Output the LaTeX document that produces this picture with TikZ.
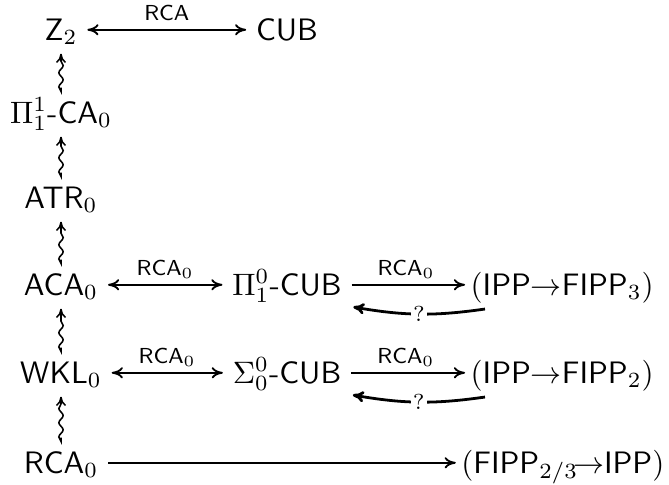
\documentclass[tikz,border=0pt]{standalone}
\usetikzlibrary{arrows.meta,decorations.pathmorphing,calc}
\begin{document}
\begin{tikzpicture}[x=0.3226pt,y=-0.3226pt,
  obj/.style={inner xsep=0pt, inner ysep=0pt, text height=10pt, text depth=3.4pt, anchor=base},
  objw/.style={obj, anchor=base west},
  obje/.style={obj, anchor=base east},
  lab/.style={font=\scriptsize, inner sep=1pt, text depth=1.6pt, above=0pt},
  qlab/.style={font=\scriptsize, inner sep=0.6pt, fill=white},
  ar/.style={line width=0.6pt, -{To[length=3.6pt,width=3.6pt]}, shorten <=3pt, shorten >=3pt},
  ar3/.style={line width=0.6pt, -{To[length=3.6pt,width=3.6pt]}, shorten <=3pt, shorten >=1.6pt},
  biar/.style={line width=0.6pt, {To[length=3.6pt,width=3.6pt]}-{To[length=3.6pt,width=3.6pt]}, shorten <=3pt, shorten >=3pt},
  back/.style={line width=0.9pt, -{To[length=3.6pt,width=3.6pt]}},
  squig/.style={line width=0.5pt, -{To[length=3pt,width=3.2pt]}, decorate,
    decoration={snake, amplitude=0.7pt, segment length=4.6pt, post length=3pt},
    shorten <=1.2pt, shorten >=0.8pt},
]
\useasboundingbox (0,0) rectangle (669,484);
% left column
\node[obj] (z2)  at (61,40)  {$\mathsf{Z}_2$};
\node[obj] (pi1) at (61,123) {$\Pi^1_1$-$\mathsf{CA}_0$};
\node[obj] (atr) at (61,208) {$\mathsf{ATR}_0$};
\node[obj] (aca) at (61,295) {$\mathsf{ACA}_0$};
\node[obj] (wkl) at (61,383) {$\mathsf{WKL}_0$};
\node[obj] (rca) at (61,473) {$\mathsf{RCA}_0$};
% middle column
\node[obj] (cub)  at (287,40)  {$\mathsf{CUB}$};
\node[obj] (picub) at (287,295) {$\Pi^0_1$-$\mathsf{CUB}$};
\node[obj] (sicub) at (287,383) {$\Sigma^0_0$-$\mathsf{CUB}$};
% right column
\node[objw] (ipp3) at (470,295) {$(\mathsf{IPP}{\to}\mathsf{FIPP}_3)$};
\node[objw] (ipp2) at (470,383) {$(\mathsf{IPP}{\to}\mathsf{FIPP}_2)$};
\node[obje] (fipp) at (665,473) {$(\mathsf{FIPP}_{2/3}\!{\to}\mathsf{IPP})$};
% squiggly implications
\draw[squig] (pi1.north) -- (z2.south);
\draw[squig] (atr.north) -- (pi1.south);
\draw[squig] (aca.north) -- (atr.south);
\draw[squig] (wkl.north) -- (aca.south);
\draw[squig] (rca.north) -- (wkl.south);
% horizontal arrows
\draw[biar] (z2) -- node[lab] {$\mathsf{RCA}$} (cub);
\draw[biar] (aca) -- node[lab] {$\mathsf{RCA}_0$} (picub);
\draw[biar] (wkl) -- node[lab] {$\mathsf{RCA}_0$} (sicub);
\draw[ar3] (picub) -- node[lab] {$\mathsf{RCA}_0$} (ipp3);
\draw[ar3] (sicub) -- node[lab] {$\mathsf{RCA}_0$} (ipp2);
\draw[ar3] (rca) -- (fipp);
% open converse questions
\draw[back] ($(ipp3.base west)+(15,14)$) to[bend left=9] node[qlab] {$?$} ($(picub.base east)+(11,12)$);
\draw[back] ($(ipp2.base west)+(15,14)$) to[bend left=9] node[qlab] {$?$} ($(sicub.base east)+(11,12)$);
\end{tikzpicture}
\end{document}
